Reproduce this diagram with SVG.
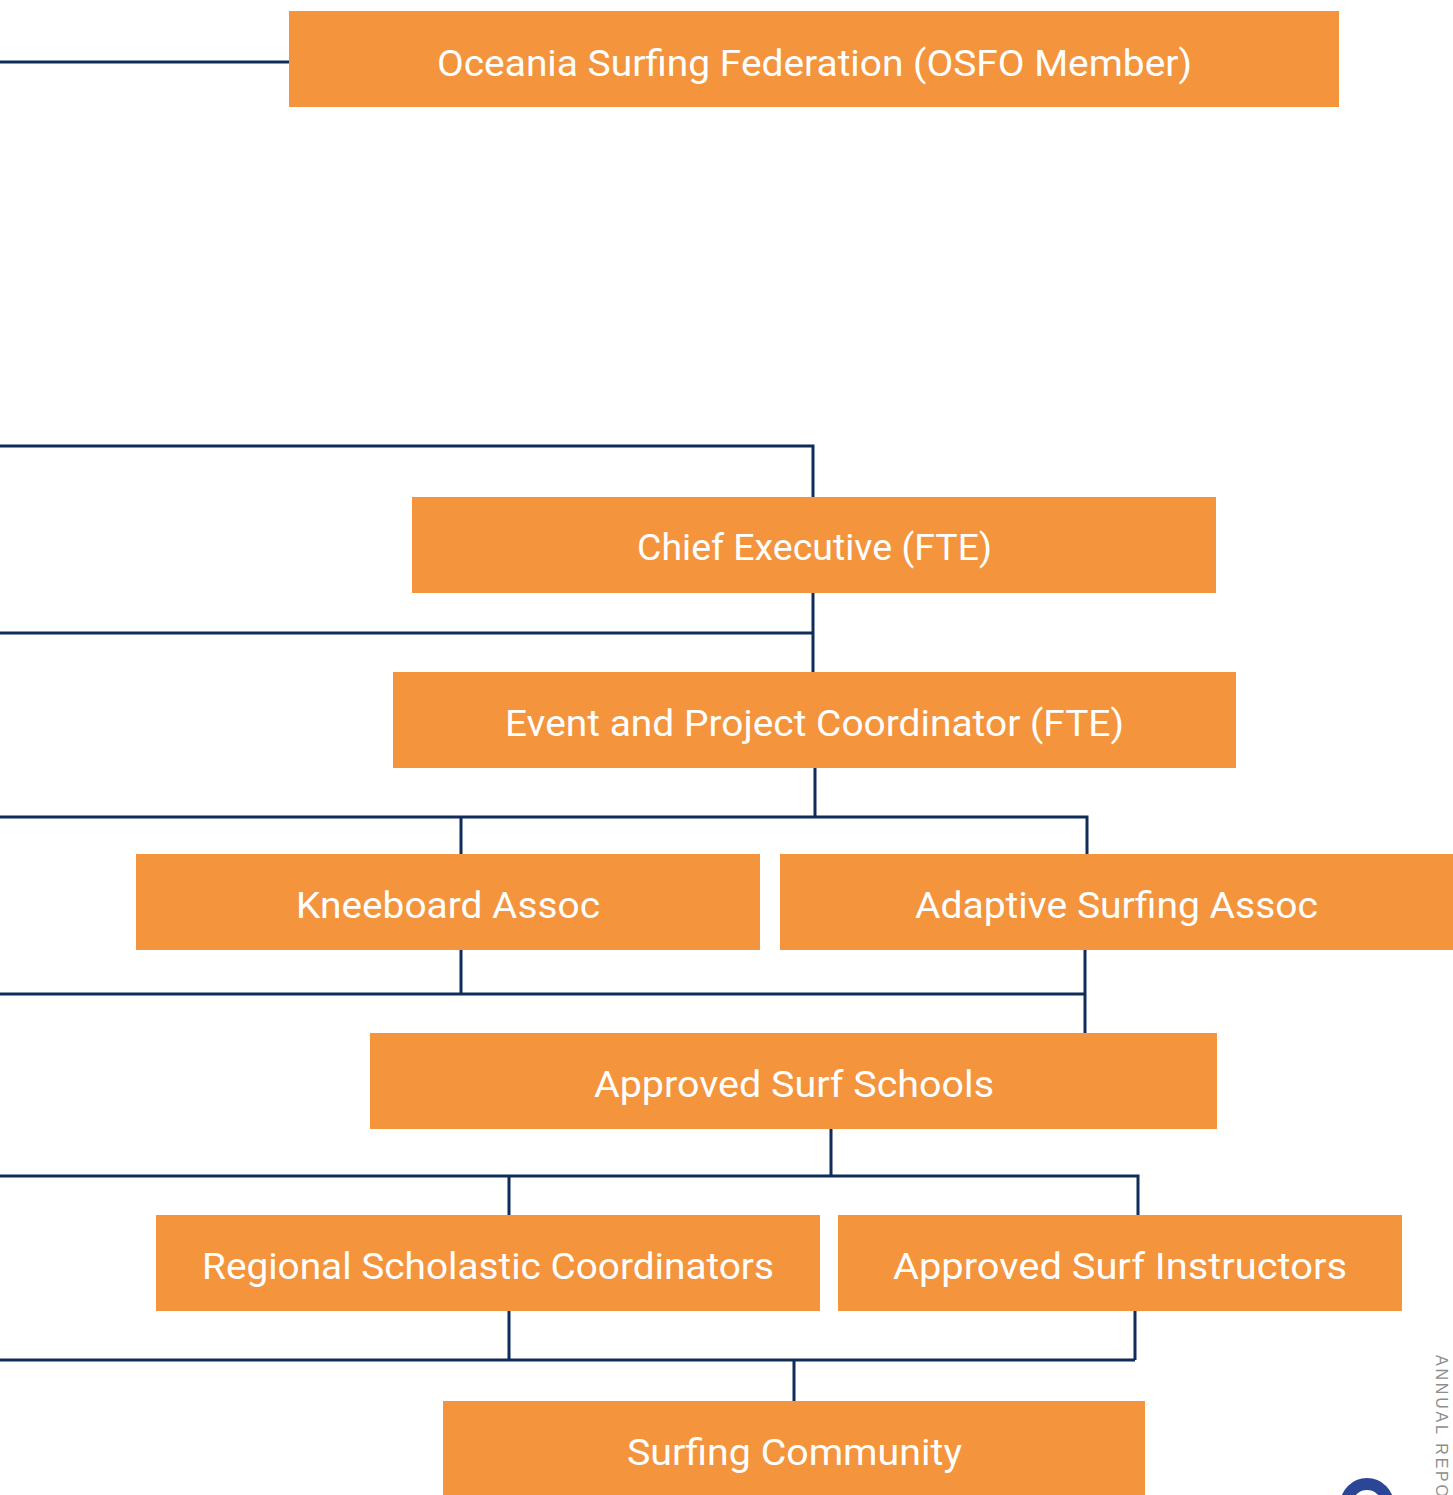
<svg xmlns="http://www.w3.org/2000/svg" width="1453" height="1495" viewBox="0 0 1453 1495">
<style>
.box{fill:#F4943D}
.lbl{font-family:Roboto,"Liberation Sans",sans-serif;font-size:37px;fill:#FFFFFF;text-anchor:middle}
.ln{fill:none;stroke:#0E2D58;stroke-width:3}
</style>
<rect width="1453" height="1495" fill="#FFFFFF"/>
<g id="connectors">
<path class="ln" d="M0 62H289"/>
<path class="ln" d="M0 446H813V497"/>
<path class="ln" d="M813 593V672M0 633H813"/>
<path class="ln" d="M815 768V817M0 817H1087V854M461 817V854"/>
<path class="ln" d="M461 950V994M1085 950V1033M0 994H1085"/>
<path class="ln" d="M831 1129V1176M0 1176H1138V1215M509 1176V1215"/>
<path class="ln" d="M509 1311V1360M1135 1311V1360M0 1360H1135M794 1360V1401"/>
</g>
<g id="osf"><rect class="box" x="289" y="11" width="1050" height="96"/><text class="lbl" x="814.5" y="76" textLength="755" lengthAdjust="spacingAndGlyphs">Oceania Surfing Federation (OSFO Member)</text></g>
<g id="ceo"><rect class="box" x="412" y="497" width="804" height="96"/><text class="lbl" x="814.5" y="560" textLength="355" lengthAdjust="spacingAndGlyphs">Chief Executive (FTE)</text></g>
<g id="epc"><rect class="box" x="393" y="672" width="843" height="96"/><text class="lbl" x="814.5" y="736" textLength="619" lengthAdjust="spacingAndGlyphs">Event and Project Coordinator (FTE)</text></g>
<g id="kneeboard"><rect class="box" x="136" y="854" width="624" height="96"/><text class="lbl" x="448" y="918" textLength="304" lengthAdjust="spacingAndGlyphs">Kneeboard Assoc</text></g>
<g id="adaptive"><rect class="box" x="780" y="854" width="673" height="96"/><text class="lbl" x="1116.5" y="918" textLength="403" lengthAdjust="spacingAndGlyphs">Adaptive Surfing Assoc</text></g>
<g id="schools"><rect class="box" x="370" y="1033" width="847" height="96"/><text class="lbl" x="794" y="1097" textLength="400" lengthAdjust="spacingAndGlyphs">Approved Surf Schools</text></g>
<g id="regional"><rect class="box" x="156" y="1215" width="664" height="96"/><text class="lbl" x="488" y="1279" textLength="572" lengthAdjust="spacingAndGlyphs">Regional Scholastic Coordinators</text></g>
<g id="instructors"><rect class="box" x="838" y="1215" width="564" height="96"/><text class="lbl" x="1120" y="1279" textLength="454" lengthAdjust="spacingAndGlyphs">Approved Surf Instructors</text></g>
<g id="community"><rect class="box" x="443" y="1401" width="702" height="94"/><text class="lbl" x="794.5" y="1465" textLength="335" lengthAdjust="spacingAndGlyphs">Surfing Community</text></g>
<text x="1436" y="1355" transform="rotate(90 1436 1355)" font-family="'Liberation Sans',sans-serif" font-size="16" fill="#8E8E8E" textLength="142" lengthAdjust="spacing">ANNUAL REPO</text>
<circle cx="1367" cy="1505" r="21" fill="none" stroke="#2B4696" stroke-width="12"/>
</svg>
